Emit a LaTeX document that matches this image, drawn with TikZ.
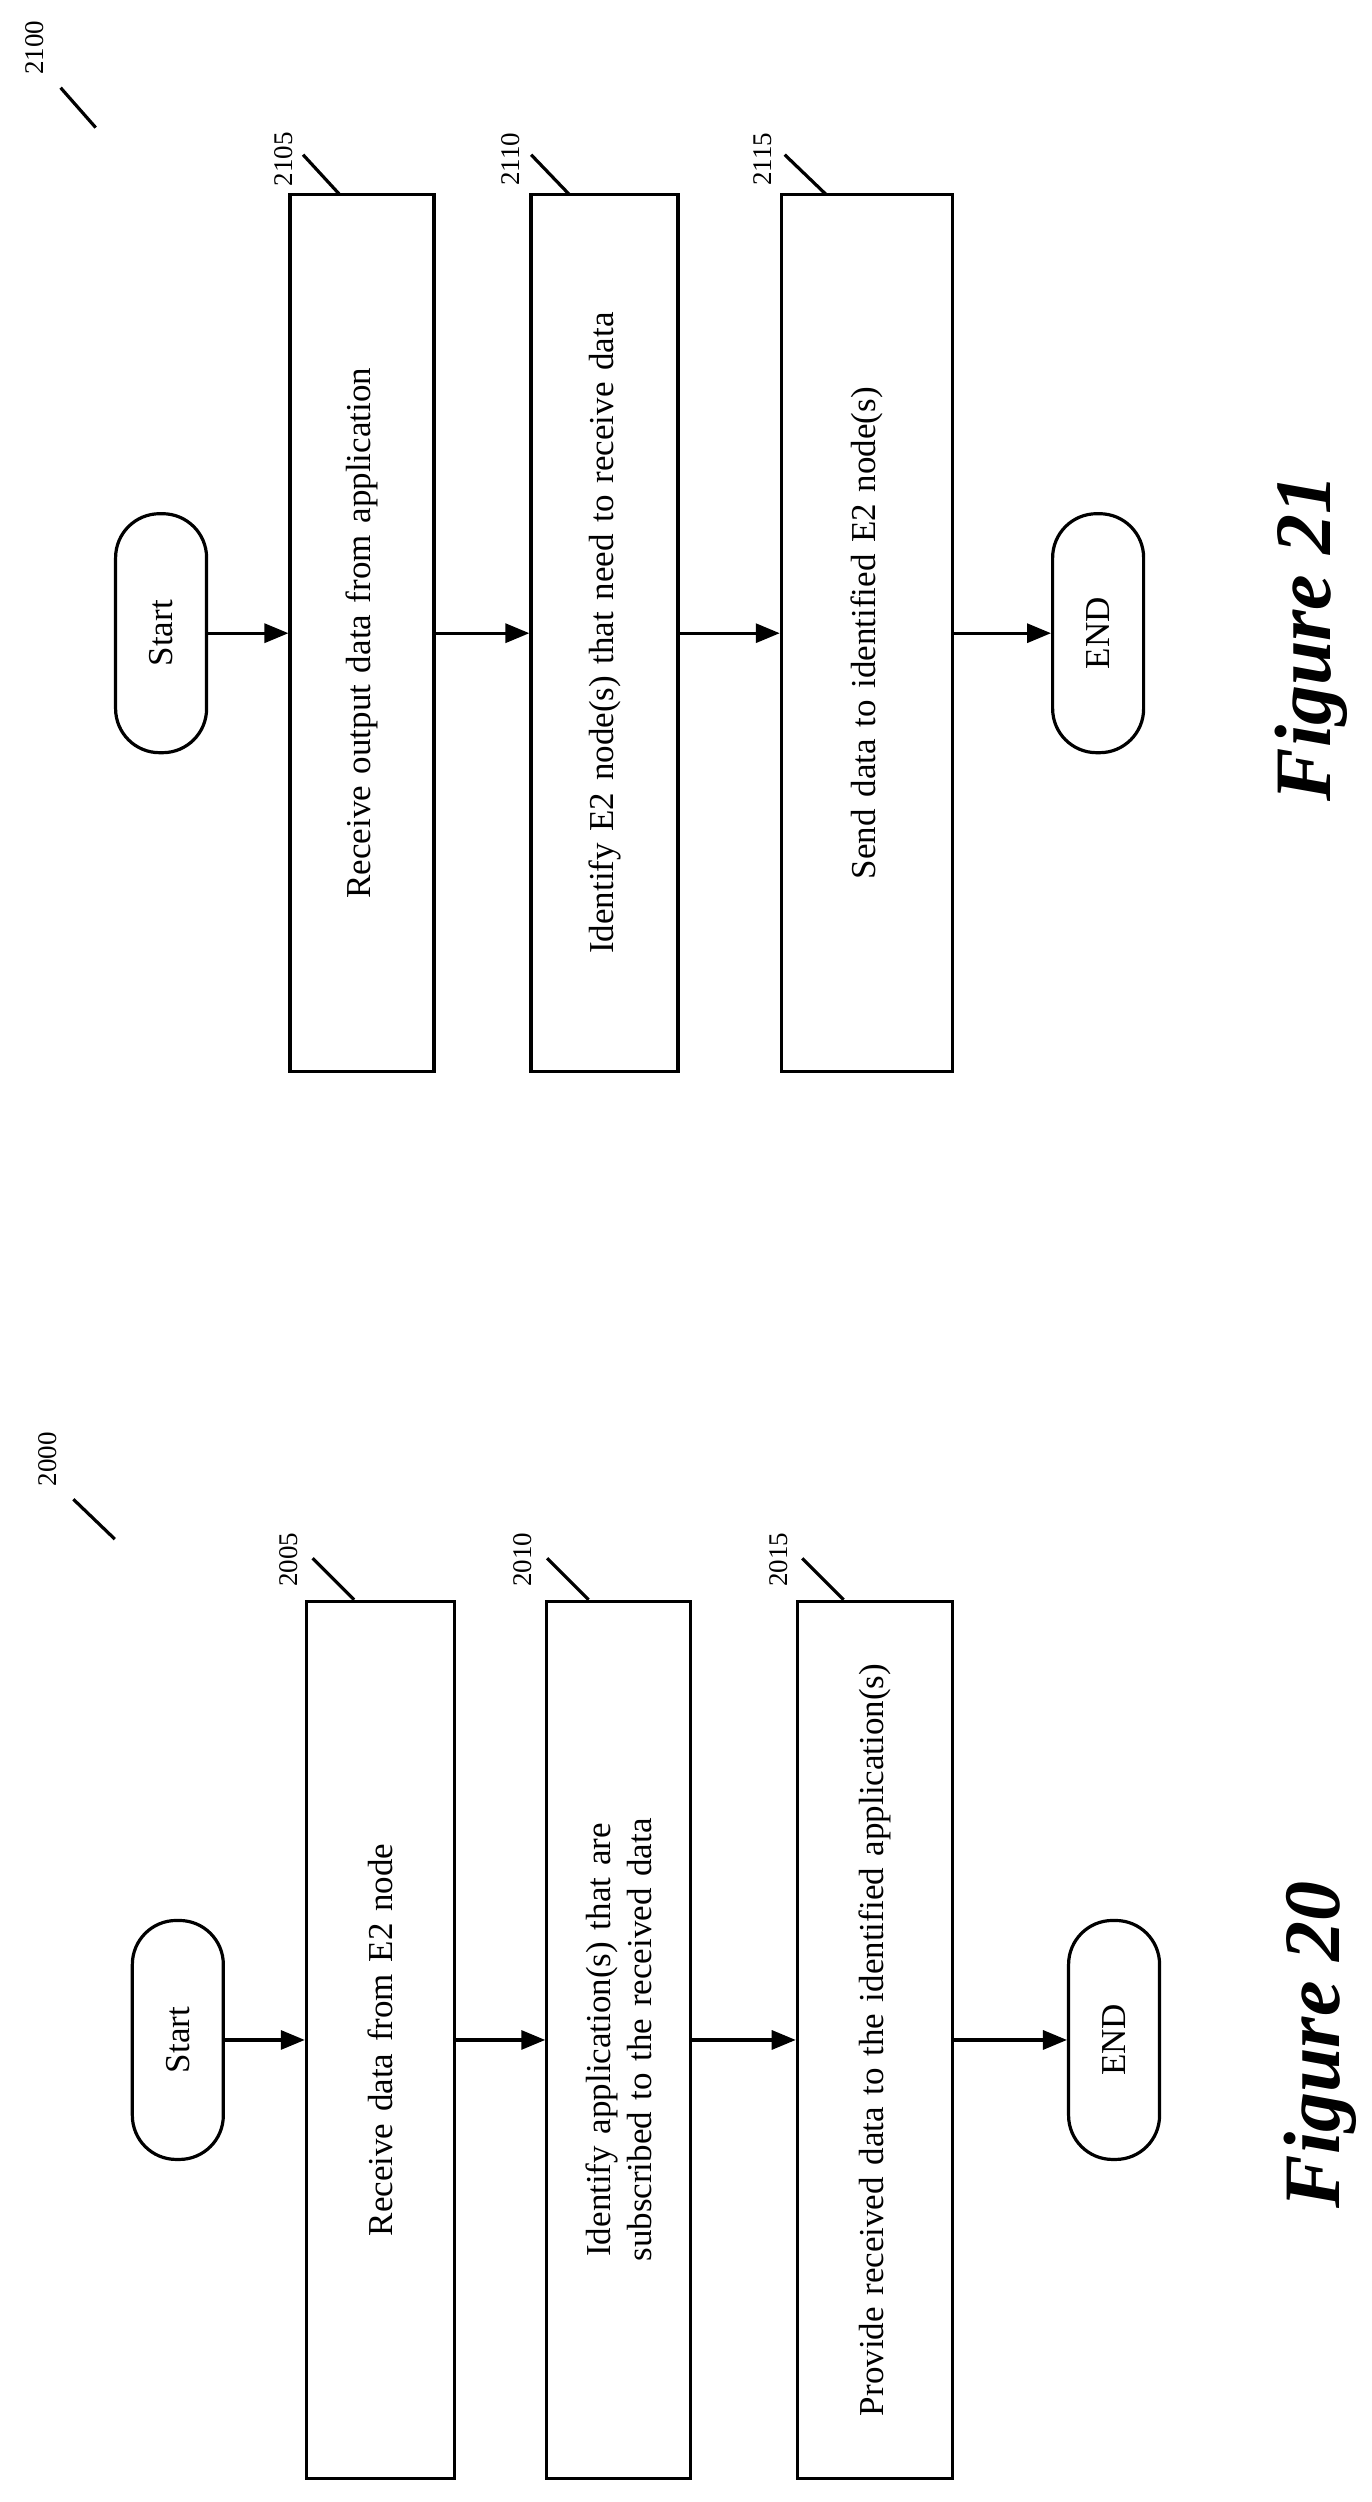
\documentclass[tikz,border=0pt]{standalone}
\usepackage{fontspec}
\setmainfont{Liberation Serif}
\usetikzlibrary{arrows.meta}
\begin{document}
\begin{tikzpicture}[x=1.595pt,y=-1.595pt,
  box/.style={draw,line width=3.2pt,rotate=90,minimum height=#1,minimum width=877pt,align=center,text width=820pt,font=\fontsize{35}{42}\selectfont,inner sep=0pt},
  term/.style={draw,line width=3.2pt,rotate=90,minimum width=239pt,minimum height=91pt,rounded corners=44pt,font=\fontsize{35}{42}\selectfont},
  arr/.style={-{Triangle[length=24pt,width=19pt]},line width=3.2pt},
  ref/.style={rotate=90,font=\fontsize{27}{30}\selectfont,inner sep=1pt},
  lead/.style={line width=3.2pt}]
\useasboundingbox (0,0) rectangle (860.2,1568.7);
% Figure 21
\node[term] (s21) at (101,397) {Start};
\node[box=144pt] (b2105) at (227,397) {Receive output data from application};
\node[box=147pt] (b2110) at (379,397) {Identify E2 node(s) that need to receive data};
\node[box=171pt] (b2115) at (543.5,397) {Send data to identified E2 node(s)};
\node[term] (e21) at (688.5,397) {END};
\draw[arr] (s21) -- (b2105);
\draw[arr] (b2105) -- (b2110);
\draw[arr] (b2110) -- (b2115);
\draw[arr] (b2115) -- (e21);
\node[font=\fontsize{80}{90}\selectfont\bfseries\itshape,rotate=90] (f21) at (822,400) {Figure 21};
\node[ref] (r2100) at (22,30) {2100};
\draw[lead] (38,55) -- (60,80);
\node[ref] (r2105) at (178,100) {2105};
\draw[lead] (190,97) -- (213,122);
\node[ref] (r2110) at (320,100) {2110};
\draw[lead] (333,97) -- (357,122);
\node[ref] (r2115) at (478,100) {2115};
\draw[lead] (492,97) -- (518,122);
% Figure 20
\node[term] (s20) at (111.5,1279) {Start};
\node[box=148pt] (b2005) at (238.5,1279) {Receive data from E2 node};
\node[box=144pt] (b2010) at (388,1279) {Identify application(s) that are subscribed to the received data};
\node[box=155pt] (b2015) at (548.5,1279) {Provide received data to the identified application(s)};
\node[term] (e20) at (698.5,1279) {END};
\draw[arr] (s20) -- (b2005);
\draw[arr] (b2005) -- (b2010);
\draw[arr] (b2010) -- (b2015);
\draw[arr] (b2015) -- (e20);
\node[font=\fontsize{80}{90}\selectfont\bfseries\itshape,rotate=90] (f20) at (828,1282) {Figure 20};
\node[ref] (r2000) at (30,915) {2000};
\draw[lead] (46,940) -- (72,965);
\node[ref] (r2005) at (181,978) {2005};
\draw[lead] (196,977) -- (222,1003);
\node[ref] (r2010) at (328,978) {2010};
\draw[lead] (343,977) -- (369,1003);
\node[ref] (r2015) at (488,978) {2015};
\draw[lead] (503,977) -- (529,1003);
\end{tikzpicture}
\end{document}
